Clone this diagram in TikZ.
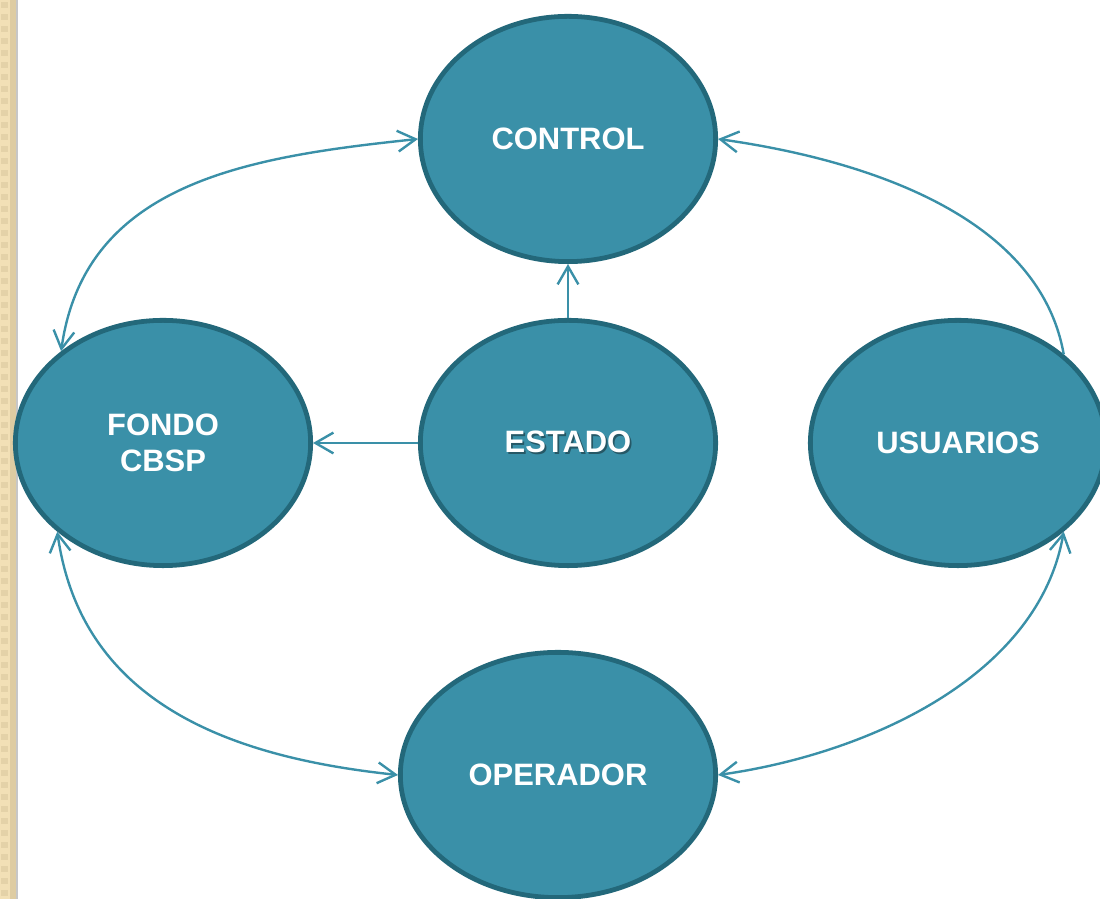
\documentclass[tikz,border=0pt]{standalone}
\usepackage{fontspec}
\setmainfont{Liberation Sans}
\usepackage{xcolor}
\usetikzlibrary{arrows.meta,shapes.geometric}
\definecolor{tealfill}{RGB}{58,144,168}
\definecolor{tealedge}{RGB}{35,104,122}
\definecolor{tealline}{RGB}{58,144,168}
\definecolor{shadowc}{RGB}{38,88,102}
\definecolor{paper}{RGB}{242,224,182}
\definecolor{paperdark}{RGB}{222,204,162}
\newcommand{\shtext}[1]{\rlap{\kern1.2pt\raisebox{-1.2pt}{\color{shadowc}#1}}#1}

\begin{document}
\begin{tikzpicture}[x=0.025cm,y=0.025cm,
  every node/.style={draw=tealedge,fill=tealfill,ellipse,line width=3.4pt,
    inner sep=0pt,minimum width=7.38cm,minimum height=6.13cm,
    text=white,font=\fontsize{22}{26}\selectfont\bfseries,align=center}]
\useasboundingbox (0,0) rectangle (1100,899);
\begin{scope}
\clip (0,0) rectangle (1100,899);
%paper strip
\fill[paper] (0,0) rectangle (10,899);
\fill[paperdark] (10,0) rectangle (16,899);
\foreach \k in {0,1,...,75}
  \fill[paperdark!70!paper] (1,\k*12+3) rectangle (8,\k*12+9);
\draw[black!22,line width=1.2pt] (17,0) -- (17,899);

\node (control) at (568,760){CONTROL};
\node (fondo) at (163,456){FONDO\\CBSP};
\node (estado) at (568,456){\shtext{ESTADO}};
\node (usuarios) at (958,456){USUARIOS};
\node (operador) at (558,124)[minimum width=7.88cm]{OPERADOR};

\begin{scope}[tealline,line width=1.7pt,
  >={Straight Barb[length=0.45cm,width=0.52cm]}]
%straight edges
\draw[->] (estado.north) -- (control.south);
\draw[->] (estado.west) -- (fondo.east);
%outer arcs
\draw[<->] (fondo.138) to[out=82,in=186,looseness=1.05] (control.west);
\draw[->] (usuarios.40) to[out=100,in=-8,looseness=0.9] (control.east);
\draw[<->] (fondo.220) to[out=-82,in=174,looseness=1.05] (operador.west);
\draw[<->] (usuarios.-40) to[out=-100,in=8,looseness=0.9] (operador.east);
\end{scope}
\end{scope}
\end{tikzpicture}
\end{document}
